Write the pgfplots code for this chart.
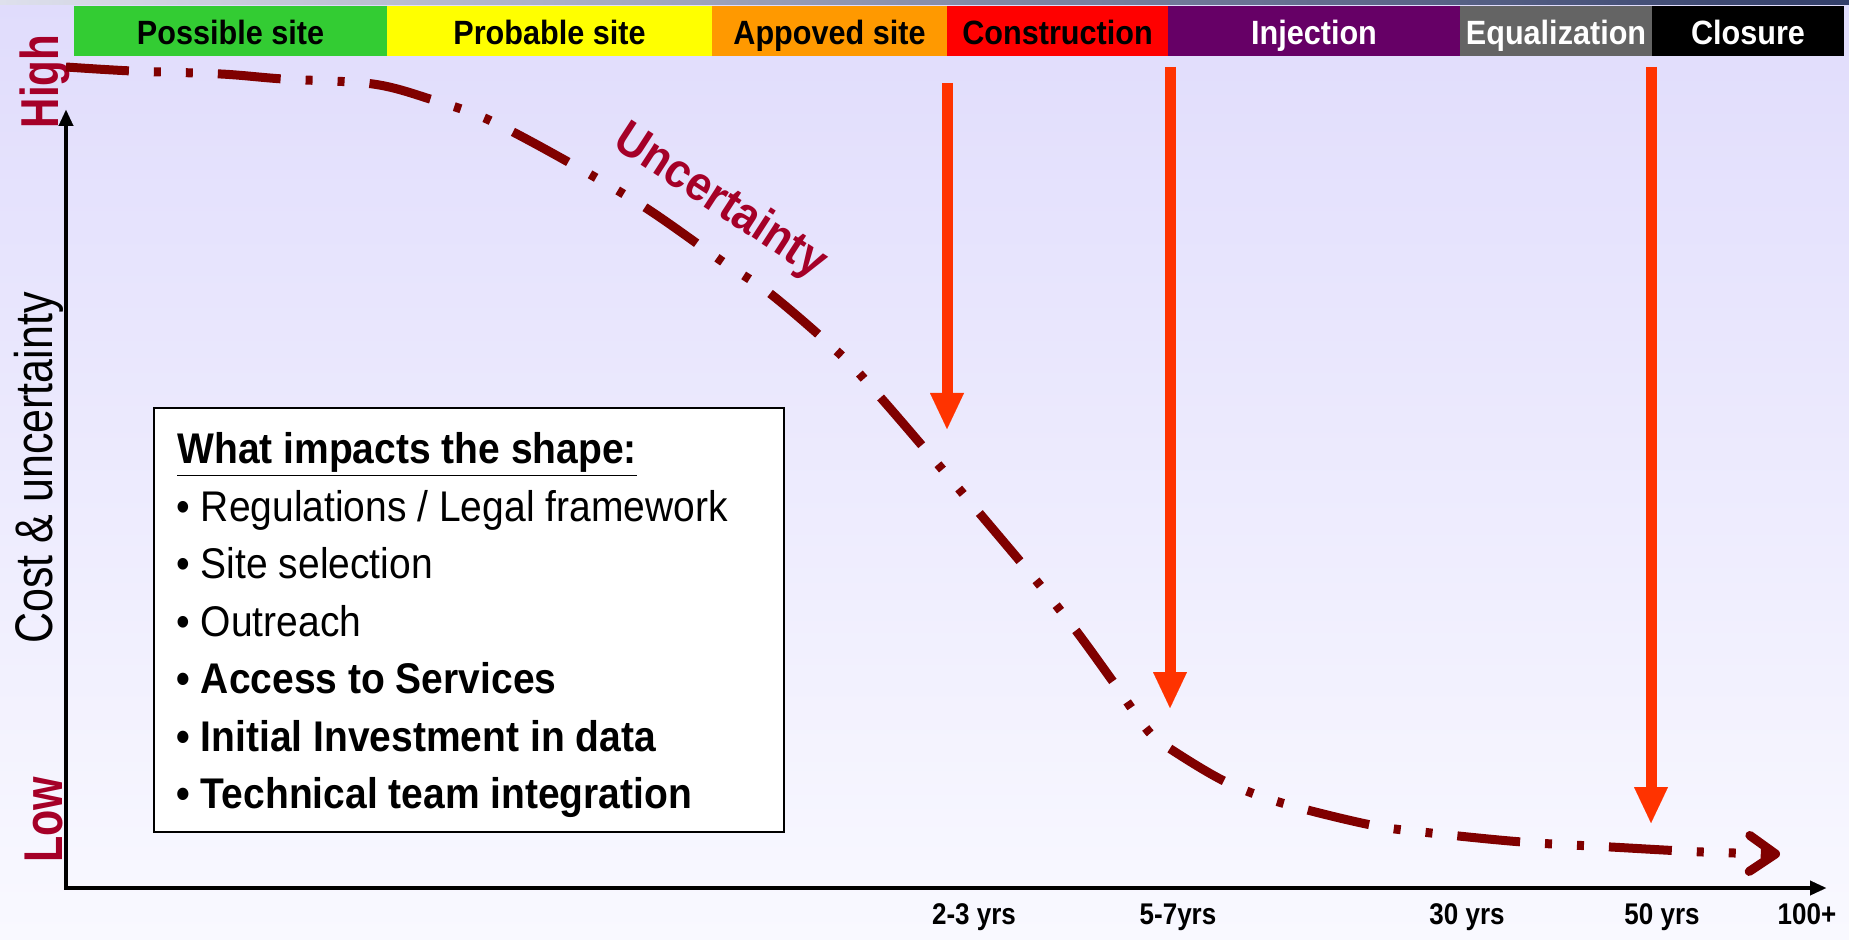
\documentclass[border=0pt]{standalone}
\usepackage{fontspec}
\setmainfont{Liberation Sans}
\usepackage{pgfplots}
\pgfplotsset{compat=1.18}
\usetikzlibrary{arrows.meta}
\definecolor{bgtop}{RGB}{224,220,252}
\definecolor{bgbot}{RGB}{249,249,255}
\definecolor{stripL}{RGB}{222,224,236}
\definecolor{stripR}{RGB}{50,62,105}
\definecolor{cgreen}{RGB}{51,204,51}
\definecolor{cyellow}{RGB}{255,255,0}
\definecolor{corange}{RGB}{255,153,0}
\definecolor{cred}{RGB}{255,0,0}
\definecolor{cpurple}{RGB}{102,0,102}
\definecolor{cgray}{RGB}{100,100,100}
\definecolor{curvecol}{RGB}{128,0,0}
\definecolor{arrowred}{RGB}{255,51,0}
\definecolor{crimson}{RGB}{165,0,40}
\newcommand{\fs}[1]{\fontsize{#1}{#1}\selectfont}
\newcommand{\tb}[1]{\scalebox{1}[1.1]{\fs{15.3pt}\bfseries #1}}
\newcommand{\bx}[1]{\scalebox{1}[1.1]{\fs{19.5pt}#1}}
\begin{document}
\begin{tikzpicture}
\begin{axis}[width=924.5pt,height=470pt,scale only axis,
  xmin=0,xmax=1849,ymin=0,ymax=940,y dir=reverse,hide axis,clip=false]
% background
\fill[top color=bgtop,bottom color=bgbot] (0,0) rectangle (1849,940);
\fill[left color=stripL,right color=stripR] (0,0) rectangle (1849,5);
% phase bar
\fill[cgreen]  (74,6) rectangle (387,56);
\fill[cyellow] (387,6) rectangle (712,56);
\fill[corange] (712,6) rectangle (947,56);
\fill[cred]    (947,6) rectangle (1168,56);
\fill[cpurple] (1168,6) rectangle (1460,56);
\fill[cgray]   (1460,6) rectangle (1652,56);
\fill[black]   (1652,6) rectangle (1844,56);
\node[anchor=base,inner sep=0] at (230.5,45) {\tb{Possible site}};
\node[anchor=base,inner sep=0] at (549.5,45) {\tb{Probable site}};
\node[anchor=base,inner sep=0] at (829.5,45) {\tb{Appoved site}};
\node[anchor=base,inner sep=0] at (1057.5,45) {\tb{Construction}};
\node[anchor=base,inner sep=0,text=white] at (1314,45) {\tb{Injection}};
\node[anchor=base,inner sep=0,text=white] at (1556,45) {\tb{Equalization}};
\node[anchor=base,inner sep=0,text=white] at (1748,45) {\tb{Closure}};
% axes
\draw[line width=2pt,{Triangle[length=8pt,width=7.5pt,line width=0.01pt]}-{Triangle[length=8pt,width=7.5pt,line width=0.01pt]}]
  (66,110) -- (66,888) -- (1826,888);
% axis texts
\node[rotate=90,anchor=base,inner sep=0,text=crimson] at (58,81.5) {\scalebox{1}[1.27]{\fs{21pt}\bfseries High}};
\node[rotate=90,anchor=base,inner sep=0,text=crimson] at (62,820) {\scalebox{1}[1.27]{\fs{21.5pt}\bfseries Low}};
\node[rotate=90,anchor=base,inner sep=0] at (52,468) {\scalebox{1}[1.23]{\fs{21.5pt}Cost \& uncertainty}};
% bottom labels
\node[anchor=base,inner sep=0] at (974,924) {\scalebox{1}[1.15]{\fs{13pt}\bfseries 2-3 yrs}};
\node[anchor=base,inner sep=0] at (1178,924) {\scalebox{1}[1.15]{\fs{13pt}\bfseries 5-7yrs}};
\node[anchor=base,inner sep=0] at (1467,924) {\scalebox{1}[1.15]{\fs{13pt}\bfseries 30 yrs}};
\node[anchor=base,inner sep=0] at (1662,924) {\scalebox{1}[1.15]{\fs{13pt}\bfseries 50 yrs}};
\node[anchor=base,inner sep=0] at (1807,924) {\scalebox{1}[1.15]{\fs{13pt}\bfseries 100+}};
% milestone arrows
\addplot[arrowred,line width=5.5pt,-{Triangle[length=18pt,width=17pt,line width=0.01pt]}] coordinates {(947,83) (947,429)};
\addplot[arrowred,line width=5.5pt,-{Triangle[length=18pt,width=17pt,line width=0.01pt]}] coordinates {(1170,67) (1170,708)};
\addplot[arrowred,line width=5.5pt,-{Triangle[length=18pt,width=17pt,line width=0.01pt]}] coordinates {(1651,67) (1651,823)};
% uncertainty curve
\addplot[curvecol,line width=4.5pt,smooth,tension=0.55,mark=none,
  dash pattern=on 31.5pt off 12.5pt on 3.5pt off 12.5pt on 3.5pt off 12.5pt,
  -{Straight Barb[length=13pt,width=18pt,line width=4.5pt,round]}]
  coordinates {(66,67) (132,71) (221,74) (283,79) (373,84) (433,100) (489,120)
  (570,163) (646,208) (723,262) (772,295) (841,355) (881,398) (942,469)
  (981,515) (1039,584) (1077,632) (1114,683) (1149,732) (1172,750) (1226,782)
  (1282,803) (1371,825) (1431,833) (1522,842) (1611,847) (1703,852) (1780,854)};
\node[rotate=-33,text=crimson,inner sep=0] at (720,202) {\scalebox{1}[1.1]{\fs{22pt}\bfseries Uncertainty}};
% info box
\filldraw[fill=white,draw=black,line width=0.8pt] (154,408) rectangle (784,832);
\node[anchor=base west,inner sep=0] at (177,463) {\bx{\bfseries\underline{What impacts the shape:}}};
\node[anchor=base west,inner sep=0] at (176,521) {\bx{\textbullet{} Regulations / Legal framework}};
\node[anchor=base west,inner sep=0] at (176,578) {\bx{\textbullet{} Site selection}};
\node[anchor=base west,inner sep=0] at (176,636) {\bx{\textbullet{} Outreach}};
\node[anchor=base west,inner sep=0] at (176,693) {\bx{\bfseries\textbullet{} Access to Services}};
\node[anchor=base west,inner sep=0] at (176,751) {\bx{\bfseries\textbullet{} Initial Investment in data}};
\node[anchor=base west,inner sep=0] at (176,808) {\bx{\bfseries\textbullet{} Technical team integration}};
\end{axis}
\end{tikzpicture}
\end{document}
